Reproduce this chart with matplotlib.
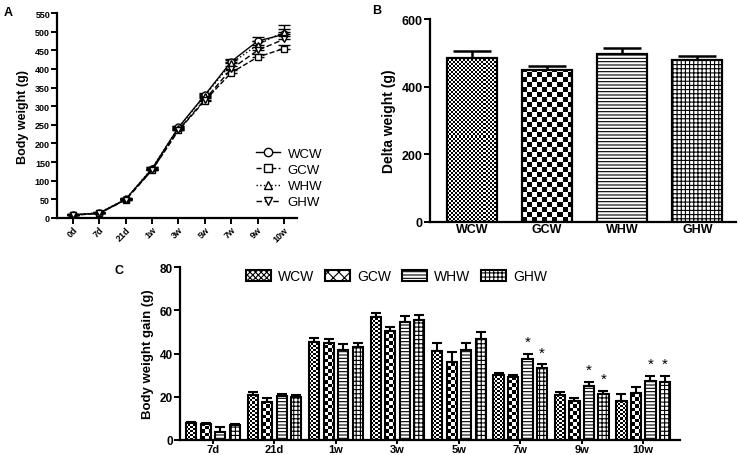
import matplotlib
matplotlib.use('Agg')
import matplotlib.pyplot as plt
from matplotlib.lines import Line2D
from matplotlib.patches import Patch
import numpy as np

plt.rcParams['font.family'] = ['Liberation Sans', 'DejaVu Sans']
plt.rcParams['hatch.linewidth'] = 0.8

groups = ['WCW', 'GCW', 'WHW', 'GHW']

# panel A: body weight over time
times_a = ['0d', '7d', '21d', '1w', '3w', '5w', '7w', '9w', '10w']
bw_wcw = [8, 13, 50, 132, 243, 330, 420, 475, 493]
bw_gcw = [8, 12, 49, 128, 235, 315, 390, 432, 455]
bw_whw = [8, 14, 50, 133, 242, 328, 415, 465, 500]
bw_ghw = [7, 12, 48, 128, 236, 318, 400, 450, 480]
bw_err_wcw = [2, 2, 3, 4, 5, 6, 8, 12, 14]
bw_err_gcw = [2, 2, 3, 4, 5, 6, 8, 8, 10]
bw_err_whw = [2, 2, 3, 4, 5, 6, 8, 10, 17]
bw_err_ghw = [2, 2, 3, 4, 5, 6, 8, 9, 8]

# panel B: delta weight
delta = [485, 449, 497, 479]
delta_err = [20, 12, 17, 11]

# panel C: body weight gain per period
times_c = ['7d', '21d', '1w', '3w', '5w', '7w', '9w', '10w']
gain_wcw = [7.8, 21.0, 45.5, 56.8, 41.0, 30.0, 21.0, 18.1]
gain_gcw = [7.6, 17.6, 45.0, 50.6, 36.0, 29.3, 18.1, 21.8]
gain_whw = [3.6, 20.3, 41.6, 54.5, 41.8, 37.5, 25.1, 27.2]
gain_ghw = [6.8, 19.7, 43.2, 55.6, 46.6, 33.3, 21.4, 26.9]
gain_err_wcw = [0.4, 1.3, 1.5, 2.0, 4.0, 0.8, 1.3, 3.1]
gain_err_gcw = [0.4, 1.9, 1.7, 1.6, 4.9, 0.9, 1.4, 2.5]
gain_err_whw = [2.2, 0.9, 3.0, 3.0, 3.0, 2.5, 1.8, 2.5]
gain_err_ghw = [0.5, 0.9, 1.5, 2.3, 3.4, 1.8, 1.4, 2.7]
# significance marks: (time index, group index)
stars = [(5, 2), (5, 3), (6, 2), (6, 3), (7, 2), (7, 3)]

# fill style per group: checker cell in px, or a hatch
hatches = [None, None, '-----', '++++']
legend_hatches = ['xxxxxx', 'xxx', '-----', '++++']

fig = plt.figure(figsize=(7.4, 4.56), dpi=100)

def style_axes(ax):
    for s in ['top', 'right']:
        ax.spines[s].set_visible(False)
    for s in ['left', 'bottom']:
        ax.spines[s].set_linewidth(1.6)
    ax.tick_params(direction='out', width=1.4, length=4, pad=1)

# checkerboard texture clipped to a bar
def checker_fill(ax, patch, cell):
    x, y = patch.get_x(), patch.get_y()
    w, h = patch.get_width(), patch.get_height()
    p0 = ax.transData.transform((x, y))
    p1 = ax.transData.transform((x + w, y + h))
    nx = int(np.ceil((p1[0] - p0[0]) / cell)) + 1
    ny = int(np.ceil((p1[1] - p0[1]) / cell)) + 1
    img = np.add.outer(np.arange(ny), np.arange(nx)) % 2
    cw = w / ((p1[0] - p0[0]) / cell)
    ch = h / ((p1[1] - p0[1]) / cell)
    xl, yl = ax.get_xlim(), ax.get_ylim()
    im = ax.imshow(img, extent=(x, x + nx * cw, y, y + ny * ch), origin='lower',
                   cmap='gray', vmin=0, vmax=1, interpolation='nearest',
                   aspect='auto', zorder=2.2)
    im.set_clip_path(patch)
    ax.set_xlim(xl)
    ax.set_ylim(yl)

def draw_bar(ax, x, y, wid, k, lw, cells):
    b = ax.bar(x, y, width=wid, color='white', edgecolor='black', linewidth=0,
               hatch=hatches[k], zorder=2)[0]
    if cells[k]:
        checker_fill(ax, b, cells[k])
    ax.bar(x, y, width=wid, fill=False, edgecolor='black', linewidth=lw, zorder=3)

# ---- A ----
axA = fig.add_axes([0.077, 0.520, 0.324, 0.449])
style_axes(axA)
xa = np.arange(len(times_a))
series = [(bw_wcw, bw_err_wcw, 'o', '-'), (bw_gcw, bw_err_gcw, 's', '--'),
          (bw_whw, bw_err_whw, '^', ':'), (bw_ghw, bw_err_ghw, 'v', (0, (4, 2)))]
handles = []
for (y, e, m, ls), name in zip(series, groups):
    axA.errorbar(xa, y, yerr=[np.zeros(len(e)), e], color='black', lw=1.0, ls=ls,
                 marker=m, ms=5, mfc='white', mec='black', mew=1.0,
                 capsize=4, elinewidth=1.0, capthick=1.0)
    handles.append(Line2D([], [], color='black', lw=1.0, ls=ls, marker=m, ms=6,
                          mfc='white', mec='black', mew=1.0, label=name))
axA.set_xlim(-0.6, 8.48)
axA.set_ylim(0, 550)
axA.set_yticks(np.arange(0, 551, 50))
axA.set_xticks(xa)
axA.set_xticklabels(times_a, rotation=45, ha='right', rotation_mode='anchor')
for lab in axA.get_xticklabels() + axA.get_yticklabels():
    lab.set_fontweight('bold')
    lab.set_fontsize(6.5)
axA.set_ylabel('Body weight (g)', fontsize=9, fontweight='bold', labelpad=4)
axA.legend(handles=handles, loc='upper left', bbox_to_anchor=(0.33, 0.70),
           bbox_transform=fig.transFigure, frameon=False, fontsize=9.5,
           handlelength=1.8, handletextpad=0.6, labelspacing=0.3)
fig.text(0.005, 0.965, 'A', fontsize=9, fontweight='bold')

# ---- B ----
axB = fig.add_axes([0.581, 0.511, 0.414, 0.445])
style_axes(axB)
axB.set_xlim(-0.56, 3.52)
axB.set_ylim(0, 600)
xb = np.arange(len(groups))
for i in range(len(groups)):
    draw_bar(axB, xb[i], delta[i], 0.67, i, 1.6, [2, 5, None, None])
axB.errorbar(xb, delta, yerr=[np.zeros(4), delta_err], fmt='none', ecolor='black',
             elinewidth=1.8, capsize=14, capthick=1.8, zorder=1)
axB.set_yticks([0, 200, 400, 600])
axB.set_xticks(xb)
axB.set_xticklabels(groups)
axB.tick_params(axis='x', length=0)
for lab in axB.get_xticklabels() + axB.get_yticklabels():
    lab.set_fontweight('bold')
    lab.set_fontsize(9)
axB.set_ylabel('Delta weight (g)', fontsize=10, fontweight='bold', labelpad=4)
fig.text(0.503, 0.97, 'B', fontsize=9, fontweight='bold')

# ---- C ----
axC = fig.add_axes([0.243, 0.033, 0.676, 0.379])
style_axes(axC)
axC.set_xlim(-0.54, 7.6)
axC.set_ylim(0, 80)
xc = np.arange(len(times_c))
step = 0.236
wid = 0.165
gains = [gain_wcw, gain_gcw, gain_whw, gain_ghw]
errs = [gain_err_wcw, gain_err_gcw, gain_err_whw, gain_err_ghw]
for k in range(4):
    pos = xc + (k - 1.5) * step
    for j in range(len(xc)):
        draw_bar(axC, pos[j], gains[k][j], wid, k, 1.5, [2, 3.5, None, None])
    axC.errorbar(pos, gains[k], yerr=[np.zeros(len(xc)), errs[k]], fmt='none',
                 ecolor='black', elinewidth=1.5, capsize=3.5, capthick=1.5, zorder=1)
for ti, gi in stars:
    top = gains[gi][ti] + errs[gi][ti]
    axC.text(ti + (gi - 1.5) * step, top + 2.2, '*', ha='center', va='bottom', fontsize=11)
axC.set_yticks([0, 20, 40, 60, 80])
axC.set_xticks(xc)
axC.set_xticklabels(times_c)
axC.tick_params(axis='x', length=3, pad=0)
for lab in axC.get_xticklabels() + axC.get_yticklabels():
    lab.set_fontweight('bold')
    lab.set_fontsize(8.5)
for lab in axC.get_xticklabels():
    lab.set_fontsize(8)
axC.set_ylabel('Body weight gain (g)', fontsize=9.5, fontweight='bold', labelpad=4)
leg_handles = [Patch(facecolor='white', edgecolor='black', linewidth=1.5,
                     hatch=legend_hatches[k], label=groups[k]) for k in range(4)]
axC.legend(handles=leg_handles, loc='upper left', bbox_to_anchor=(0.315, 0.435),
           bbox_transform=fig.transFigure, ncol=4, frameon=False, fontsize=10,
           handlelength=1.8, handleheight=0.9, handletextpad=0.5, columnspacing=0.8)
fig.text(0.155, 0.4, 'C', fontsize=9, fontweight='bold')

fig.savefig('out.png', dpi=100)
